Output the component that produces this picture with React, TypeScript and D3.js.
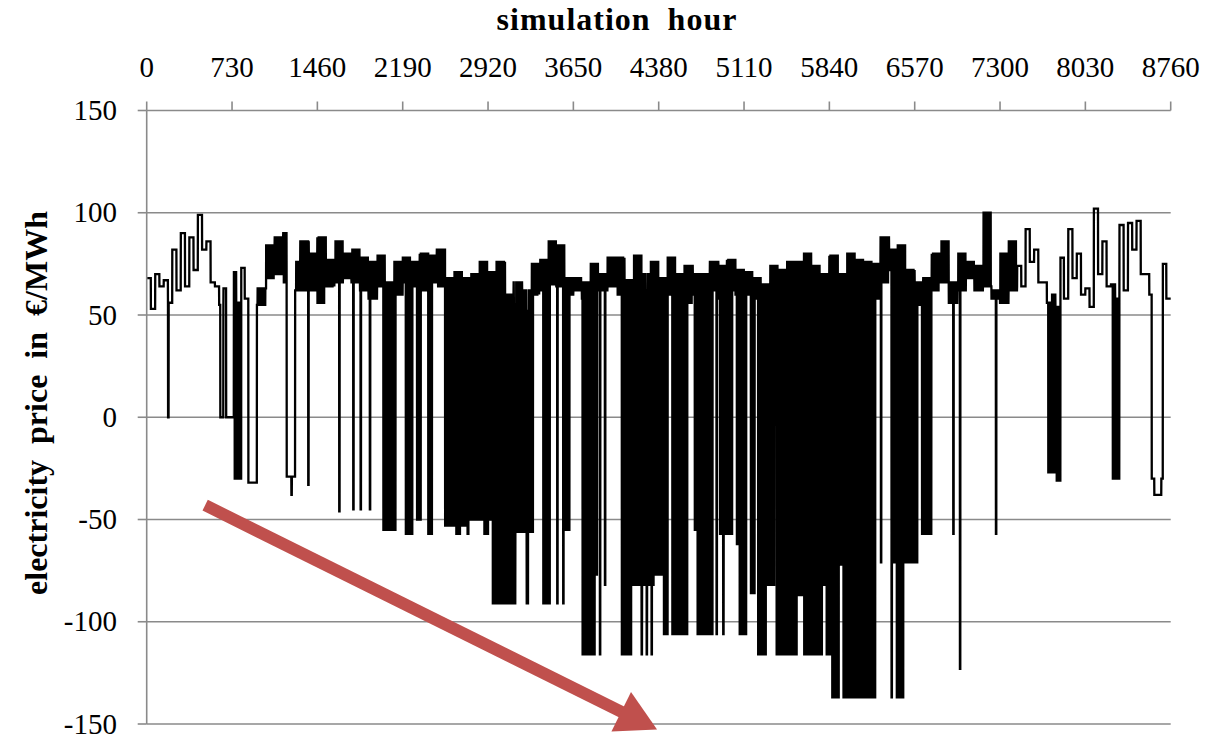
import * as d3 from "d3";

// hourly electricity price over one simulated year
const HOURS = 8760;
const BLOCK_HOURS = 73; // envelope in 73 h steps

const xTickValues = [0, 730, 1460, 2190, 2920, 3650, 4380, 5110, 5840, 6570, 7300, 8030, 8760];
const yTickValues = [150, 100, 50, 0, -50, -100, -150];

// upper level of the price band, per 73 h block
const blockHigh = [
  68, 70, 67, 82, 90, 88, 99, 86, 64, 63, 71, 73, 65, 63, 84, 88, 90, 76, 86, 80,
  88, 77, 86, 80, 82, 78, 76, 79, 66, 76, 78, 76, 80, 79, 82, 68, 71, 68, 70, 76,
  71, 76, 60, 66, 62, 75, 77, 86, 84, 68, 68, 66, 75, 70, 78, 78, 67, 79, 70, 76,
  68, 78, 70, 74, 70, 70, 76, 74, 77, 72, 71, 68, 65, 74, 72, 76, 76, 80, 74, 70,
  79, 70, 80, 77, 76, 75, 88, 82, 84, 72, 66, 68, 80, 86, 66, 80, 76, 74, 100, 62,
  80, 86, 74, 92, 82, 66, 60, 78, 92, 80, 63, 102, 86, 65, 94, 95, 96, 70, 66, 75,
];
// lower level of the price band, per 73 h block
const blockLow = [
  53, 64, 56, 62, 64, 72, 82, 66, 55, 54, 56, 58, 55, 55, 68, 70, 66, 62, 62, 62,
  56, 64, 66, 68, 66, 62, 58, 64, 52, 60, 66, 64, 62, 66, 64, 57, 60, 56, 60, 60,
  60, 58, 51, 55, 52, 60, 62, 65, 64, 60, 62, 58, 62, 62, 64, 60, 58, 62, 62, 60,
  56, 60, 57, 56, 60, 60, 62, 58, 62, 60, 60, 58, 57, 60, 62, 66, 64, 64, 62, 60,
  62, 60, 64, 64, 62, 58, 66, 72, 66, 58, 55, 58, 62, 66, 56, 62, 68, 62, 64, 58,
  56, 62, 64, 76, 66, 56, 54, 58, 68, 60, 54, 70, 64, 58, 62, 82, 70, 60, 58, 58,
];
// hours where the price swings every day between both levels
const dailySwing = [950, 7450];

// daily midday drops: [from hour, to hour, price]
const dipBands = [
  [747, 813, -30], [2039, 2124, -55], [2210, 2267, -57], [2310, 2330, -50],
  [2409, 2443, -57], [2552, 2652, -53], [2652, 2709, -57], [2709, 2738, -53],
  [2738, 2766, -57], [2780, 2880, -50], [2880, 2951, -57], [2951, 2965, -50],
  [2965, 3123, -91], [3155, 3290, -56], [3401, 3436, -91], [3593, 3621, -55],
  [3730, 3821, -116], [4064, 4149, -116], [4158, 4334, -82], [4363, 4434, -77],
  [4434, 4462, -106], [4491, 4620, -106], [4691, 4719, -55], [4719, 4847, -106],
  [4919, 5005, -57], [5047, 5076, -62], [5076, 5133, -106], [5161, 5204, -86],
  [5247, 5304, -116], [5318, 5375, -82], [5403, 5574, -116], [5574, 5617, -87],
  [5617, 5632, -116], [5646, 5803, -116], [5803, 5817, -82], [5817, 5874, -116],
  [5874, 5931, -137], [5931, 5959, -72], [5974, 6216, -137], [6402, 6427, -71],
  [6427, 6459, -137], [6487, 6587, -71], [6630, 6701, -57], [7722, 7770, -27],
  [7776, 7813, -31], [8264, 8321, -30],
];
// uninterrupted low runs: [from hour, to hour, price]
const dipRuns = [
  [183, 187, 0], [630, 655, 0], [680, 745, 0], [870, 942, -32], [1198, 1269, -29],
  [1238, 1241, -38], [1382, 1385, -33], [1647, 1650, -46], [1767, 1770, -45],
  [1830, 1833, -45], [1909, 1912, -45], [3150, 3153, -91], [3251, 3262, -91],
  [3512, 3515, -91], [3563, 3566, -91], [3849, 3852, -77], [3877, 3880, -116],
  [3920, 3923, -82], [4234, 4237, -116], [4277, 4280, -116], [4319, 4322, -116],
  [4875, 4878, -106], [4932, 4935, -106], [5231, 5234, -116], [5389, 5392, -116],
  [6281, 6284, -71], [6372, 6375, -137], [6900, 6903, -57], [6957, 6960, -123],
  [7265, 7268, -57], [8598, 8620, -30], [8620, 8680, -38], [8680, 8692, -30],
];

// annotation arrow, in data units [hour, price]
const arrowFrom = [500, -43];
const arrowTo = [4366, -152.7];

function buildSeries() {
  const v: number[] = [];
  for (let h = 0; h <= HOURS; h++) {
    const i = Math.min(blockHigh.length - 1, Math.floor(h / BLOCK_HOURS));
    const hod = h % 24;
    if (h >= dailySwing[0] && h < dailySwing[1]) {
      v.push(hod < 7 || hod >= 21 ? blockLow[i] : blockHigh[i]);
    } else {
      v.push(h - i * BLOCK_HOURS < 36 ? blockHigh[i] : blockLow[i]);
    }
  }
  dipBands.forEach(([a, b, d]) => {
    for (let day = Math.floor(a / 24); day * 24 <= b; day++) {
      for (let k = 9; k < 17; k++) {
        const h = day * 24 + k;
        if (h <= HOURS) v[h] = d;
      }
    }
  });
  dipRuns.forEach(([a, b, d]) => {
    for (let h = a; h <= b; h++) v[h] = d;
  });
  return v;
}

export default function App() {
  const width = 1224;
  const height = 734;
  const x = d3.scaleLinear().domain([0, HOURS]).range([146.7, 1170.7]);
  const y = d3.scaleLinear().domain([-150, 150]).range([724, 110.5]);
  const series = buildSeries();
  const line = d3.line<number>().x((d, i) => x(i)).y((d) => y(d));

  const grey = "#8a8a8a";
  const font = "'Liberation Serif', 'Times New Roman', serif";

  // arrow
  const ax0 = x(arrowFrom[0]), ay0 = y(arrowFrom[1]);
  const ax1 = x(arrowTo[0]), ay1 = y(arrowTo[1]);
  const len = Math.hypot(ax1 - ax0, ay1 - ay0);
  const ux = (ax1 - ax0) / len, uy = (ay1 - ay0) / len;
  const headLen = 40, headHalf = 22;
  const bx = ax1 - ux * headLen, by = ay1 - uy * headLen;
  const head = [
    [ax1, ay1],
    [bx - uy * headHalf, by + ux * headHalf],
    [bx + uy * headHalf, by - ux * headHalf],
  ];

  return (
    <svg width={width} height={height} style={{ position: "absolute", left: 0, top: 0, background: "#fff" }}>
      {/* grid */}
      <g>
        {yTickValues.map((t) => (
          <line key={t} x1={x(0)} x2={x(HOURS)} y1={y(t)} y2={y(t)} stroke={grey} strokeWidth={1.6} />
        ))}
      </g>

      {/* price line */}
      <path d={line(series) || ""} fill="none" stroke="#000" strokeWidth={2.3} strokeLinejoin="miter" />

      {/* left axis */}
      <g>
        <line x1={x(0)} x2={x(0)} y1={y(150)} y2={y(-150)} stroke={grey} strokeWidth={1.6} />
        {yTickValues.map((t) => (
          <g key={t}>
            <line x1={x(0) - 9} x2={x(0)} y1={y(t)} y2={y(t)} stroke={grey} strokeWidth={1.6} />
            <text x={117} y={y(t)} dy="0.33em" textAnchor="end" fontFamily={font} fontSize={29} fill="#000">
              {t}
            </text>
          </g>
        ))}
      </g>

      {/* top axis */}
      <g>
        {xTickValues.map((t) => (
          <g key={t}>
            <line x1={x(t)} x2={x(t)} y1={y(150) - 9} y2={y(150)} stroke={grey} strokeWidth={1.6} />
            <text x={x(t)} y={77} textAnchor="middle" fontFamily={font} fontSize={29} fill="#000">
              {t}
            </text>
          </g>
        ))}
      </g>

      <text x={617} y={30} textAnchor="middle" fontFamily={font} fontSize={32} fontWeight="bold" wordSpacing={8} letterSpacing={1}>
        simulation hour
      </text>
      <text
        transform={`translate(47,403) rotate(-90)`}
        textAnchor="middle"
        fontFamily={font}
        fontSize={32}
        fontWeight="bold"
        wordSpacing={8}
      >
        electricity price in €/MWh
      </text>

      {/* annotation arrow */}
      <line x1={ax0} y1={ay0} x2={bx + ux * 2} y2={by + uy * 2} stroke="#C0504D" strokeWidth={12} />
      <polygon points={head.map((p) => p.join(",")).join(" ")} fill="#C0504D" />
    </svg>
  );
}
